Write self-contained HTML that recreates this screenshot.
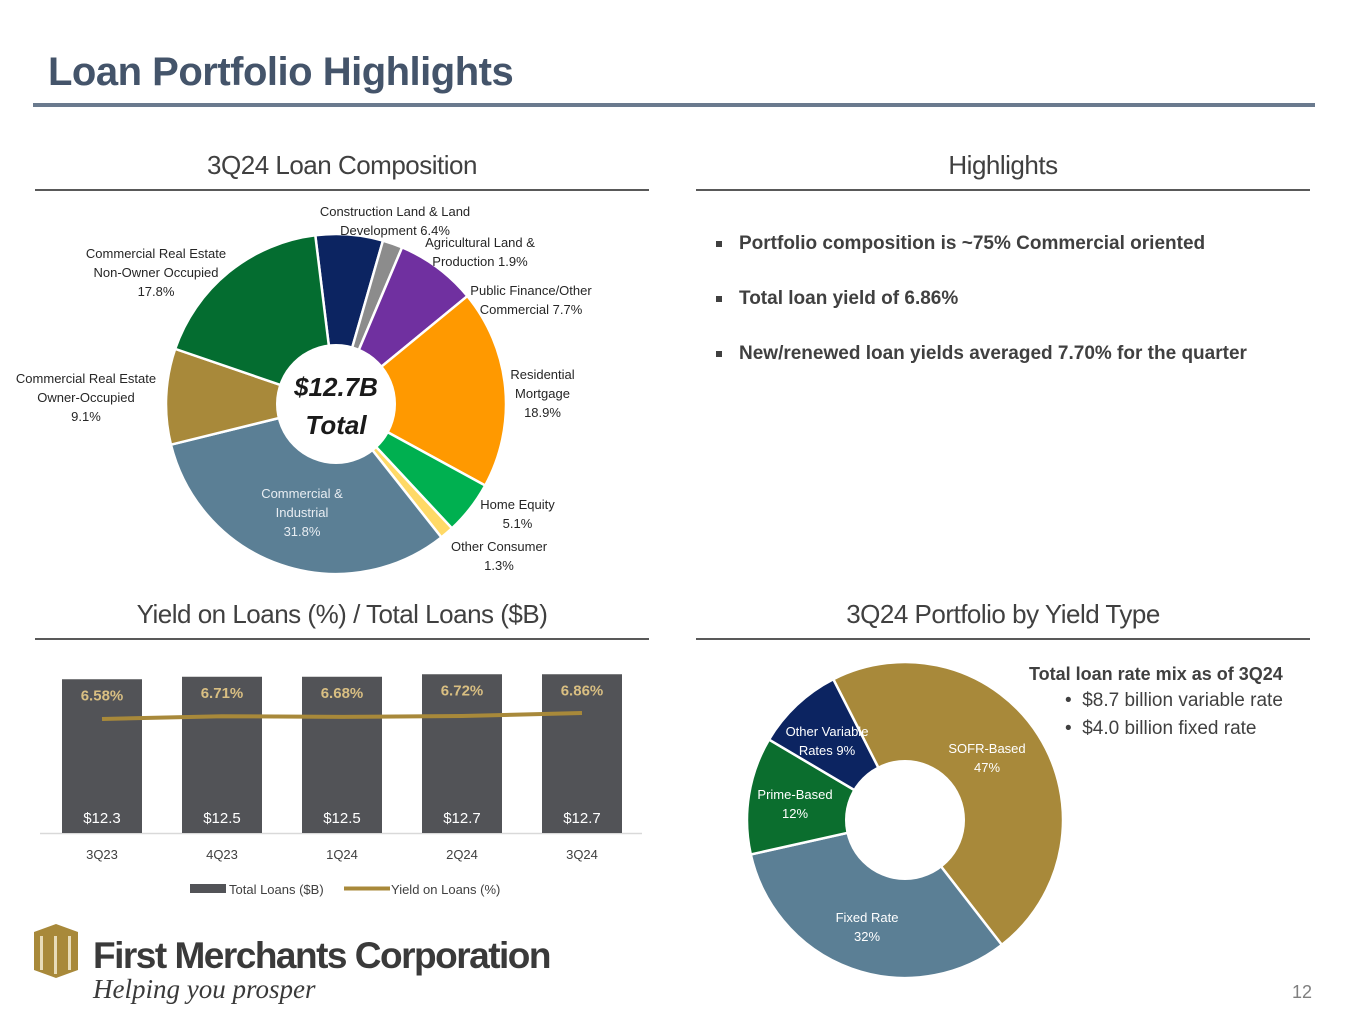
<!DOCTYPE html>
<html><head><meta charset="utf-8">
<style>
body{margin:0;width:1365px;height:1024px;background:#fff;font-family:"Liberation Sans",sans-serif;overflow:hidden;position:relative}
.abs{position:absolute}
.sec{position:absolute;font-size:26px;color:#404040;text-align:center;letter-spacing:-0.5px}
.rule{position:absolute;height:2px;background:#595959}
.lbl{position:absolute;font-size:13px;color:#262626;text-align:center;line-height:19px;white-space:nowrap}
.hl{position:absolute;left:716px;font-size:19px;font-weight:bold;color:#404040}
.hl:before{content:"";width:6px;height:6px;background:#404040;position:absolute;left:0;top:8px}
.hl span{margin-left:23px}
</style></head><body>
<div class="abs" style="left:48px;top:50px;font-size:40px;font-weight:bold;color:#44546a;letter-spacing:-0.5px">Loan Portfolio Highlights</div>
<div class="abs" style="left:33px;top:103px;width:1282px;height:4px;background:#6a7a8e"></div>

<div class="sec" style="left:35px;top:150px;width:614px">3Q24 Loan Composition</div>
<div class="rule" style="left:35px;top:189px;width:614px"></div>
<div class="sec" style="left:696px;top:150px;width:614px">Highlights</div>
<div class="rule" style="left:696px;top:189px;width:614px"></div>
<div class="sec" style="left:35px;top:599px;width:614px">Yield on Loans (%) / Total Loans ($B)</div>
<div class="rule" style="left:35px;top:638px;width:614px"></div>
<div class="sec" style="left:696px;top:599px;width:614px">3Q24 Portfolio by Yield Type</div>
<div class="rule" style="left:696px;top:638px;width:614px"></div>

<div class="hl" style="top:233px"><span>Portfolio composition is ~75% Commercial oriented</span></div>
<div class="hl" style="top:288px"><span>Total loan yield of 6.86%</span></div>
<div class="hl" style="top:343px"><span>New/renewed loan yields averaged 7.70% for the quarter</span></div>

<svg id="pie1" class="abs" style="left:0;top:0" width="1365" height="1024"></svg>

<div class="lbl" style="left:300px;top:202px;width:190px">Construction Land &amp; Land<br>Development 6.4%</div>
<div class="lbl" style="left:410px;top:233px;width:140px">Agricultural Land &amp;<br>Production 1.9%</div>
<div class="lbl" style="left:460px;top:281px;width:142px">Public Finance/Other<br>Commercial 7.7%</div>
<div class="lbl" style="left:495px;top:365px;width:95px">Residential<br>Mortgage<br>18.9%</div>
<div class="lbl" style="left:470px;top:495px;width:95px">Home Equity<br>5.1%</div>
<div class="lbl" style="left:440px;top:537px;width:118px">Other Consumer<br>1.3%</div>
<div class="lbl" style="left:240px;top:484px;width:124px;color:#e8edf2">Commercial &amp;<br>Industrial<br>31.8%</div>
<div class="lbl" style="left:5px;top:369px;width:162px">Commercial Real Estate<br>Owner-Occupied<br>9.1%</div>
<div class="lbl" style="left:75px;top:244px;width:162px">Commercial Real Estate<br>Non-Owner Occupied<br>17.8%</div>
<div class="abs" style="left:276px;top:368px;width:120px;text-align:center;font-size:26px;font-weight:bold;font-style:italic;color:#1a1a1a;line-height:38px">$12.7B<br>Total</div>

<div class="lbl" style="left:935px;top:739px;width:104px;color:#fff">SOFR-Based<br>47%</div>
<div class="lbl" style="left:815px;top:908px;width:104px;color:#fff">Fixed Rate<br>32%</div>
<div class="lbl" style="left:743px;top:785px;width:104px;color:#fff">Prime-Based<br>12%</div>
<div class="lbl" style="left:775px;top:722px;width:104px;color:#fff">Other Variable<br>Rates 9%</div>

<div class="abs" style="left:1029px;top:664px;font-size:18px;font-weight:bold;color:#404040">Total loan rate mix as of 3Q24</div>
<div class="abs" style="left:1065px;top:690px;font-size:19px;color:#404040">•&nbsp;&nbsp;$8.7 billion variable rate</div>
<div class="abs" style="left:1065px;top:718px;font-size:19px;color:#404040">•&nbsp;&nbsp;$4.0 billion fixed rate</div>

<div class="abs" style="left:30px;top:924px;width:52px;height:54px">
<svg width="52" height="54"><polygon points="4,8 26,0 48,8 48,46 26,54 4,46" fill="#a8893a"/><rect x="10" y="12" width="3" height="34" fill="#e8dcb8"/><rect x="24" y="12" width="3" height="38" fill="#e8dcb8"/><rect x="38" y="12" width="3" height="34" fill="#e8dcb8"/></svg></div>
<div class="abs" style="left:93px;top:935px;font-size:37px;font-weight:bold;color:#3a3a3a;letter-spacing:-1.5px">First Merchants Corporation</div>
<div class="abs" style="left:93px;top:974px;font-family:'Liberation Serif',serif;font-style:italic;font-size:27px;color:#3a3a3a">Helping you prosper</div>
<div class="abs" style="left:1292px;top:982px;font-size:18px;color:#7f7f7f">12</div>

<script>
const compCategories=["Construction Land & Land Development","Agricultural Land & Production","Public Finance/Other Commercial","Residential Mortgage","Home Equity","Other Consumer","Commercial & Industrial","CRE Owner-Occupied","CRE Non-Owner Occupied"];
const compValues=[6.4,1.9,7.7,18.9,5.1,1.3,31.8,9.1,17.8];
const compColors=["#0c2461","#8c8c8c","#7030a0","#ff9900","#00b050","#ffd966","#5b7f95","#a8893a","#046d30"];
const typeCategories=["SOFR-Based","Fixed Rate","Prime-Based","Other Variable Rates"];
const typeValues=[47,32,12,9];
const typeColors=["#a8893a","#5b7f95","#0b6e2e","#0c2461"];
const quarters=["3Q23","4Q23","1Q24","2Q24","3Q24"];
const totalLoans=[12.3,12.5,12.5,12.7,12.7];
const loanLabels=["$12.3","$12.5","$12.5","$12.7","$12.7"];
const yields=[6.58,6.71,6.68,6.72,6.86];

const NS="http://www.w3.org/2000/svg";
const svg=document.getElementById('pie1');
function mk(t,a){const e=document.createElementNS(NS,t);for(const k in a)e.setAttribute(k,a[k]);svg.appendChild(e);return e;}
function pt(cx,cy,r,deg){const a=(deg-90)*Math.PI/180;return [cx+r*Math.cos(a),cy+r*Math.sin(a)];}
function donut(cx,cy,ro,ri,start,vals,cols,name){
  const tot=vals.reduce((a,b)=>a+b,0);let ang=start;
  vals.forEach((v,i)=>{const sw=v/tot*360;const e=ang+sw;
    const [x1,y1]=pt(cx,cy,ro,ang),[x2,y2]=pt(cx,cy,ro,e);const lg=sw>180?1:0;
    const p=mk('path',{d:`M${cx},${cy}L${x1},${y1}A${ro},${ro} 0 ${lg} 1 ${x2},${y2}Z`,fill:cols[i],stroke:'#fff','stroke-width':2.5});
    
    
    ang=e;});
  const c=mk('circle',{cx:cx,cy:cy,r:ri,fill:'#fff'});
  
  
}
donut(336,404,170,60,-7,compValues,compColors,'composition');
donut(905,820,158,60,-27,typeValues,typeColors,'yield-type');

const base=833, bx0=102, bstep=120, bw=80;
const yBar=v=>base-v*12.5;
const yLine=v=>719-(v-6.58)*21.4;
const xC=i=>bx0+i*bstep;
const ax=mk('line',{x1:40,y1:base+0.5,x2:642,y2:base+0.5,stroke:'#d9d9d9','stroke-width':1.5});


totalLoans.forEach((v,i)=>{
  const r=mk('rect',{x:xC(i)-bw/2,y:yBar(v),width:bw,height:base-yBar(v),fill:'#525357'});
  
  
  const t=mk('text',{x:xC(i),y:base-10,'text-anchor':'middle','font-size':15,fill:'#fff','font-family':'Liberation Sans'});t.textContent=loanLabels[i];
  
  
  const y=mk('text',{x:xC(i),y:yBar(v)+21,'text-anchor':'middle','font-size':15,'font-weight':'bold',fill:'#d9bf82','font-family':'Liberation Sans'});y.textContent=yields[i].toFixed(2)+'%';
  
  
  const q=mk('text',{x:xC(i),y:859,'text-anchor':'middle','font-size':13,fill:'#404040','font-family':'Liberation Sans'});q.textContent=quarters[i];
  
  
});
const ln=mk('polyline',{points:yields.map((v,i)=>xC(i)+','+yLine(v)).join(' '),fill:'none',stroke:'#a8893a','stroke-width':4});


const lg1=mk('rect',{x:190,y:884,width:36,height:9,fill:'#525357'});


const lt1=mk('text',{x:229,y:894,'font-size':13,fill:'#404040','font-family':'Liberation Sans'});lt1.textContent='Total Loans ($B)';


const lg2=mk('line',{x1:344,y1:888.5,x2:390,y2:888.5,stroke:'#a8893a','stroke-width':4});


const lt2=mk('text',{x:391,y:894,'font-size':13,fill:'#404040','font-family':'Liberation Sans'});lt2.textContent='Yield on Loans (%)';


</script>
</body></html>
